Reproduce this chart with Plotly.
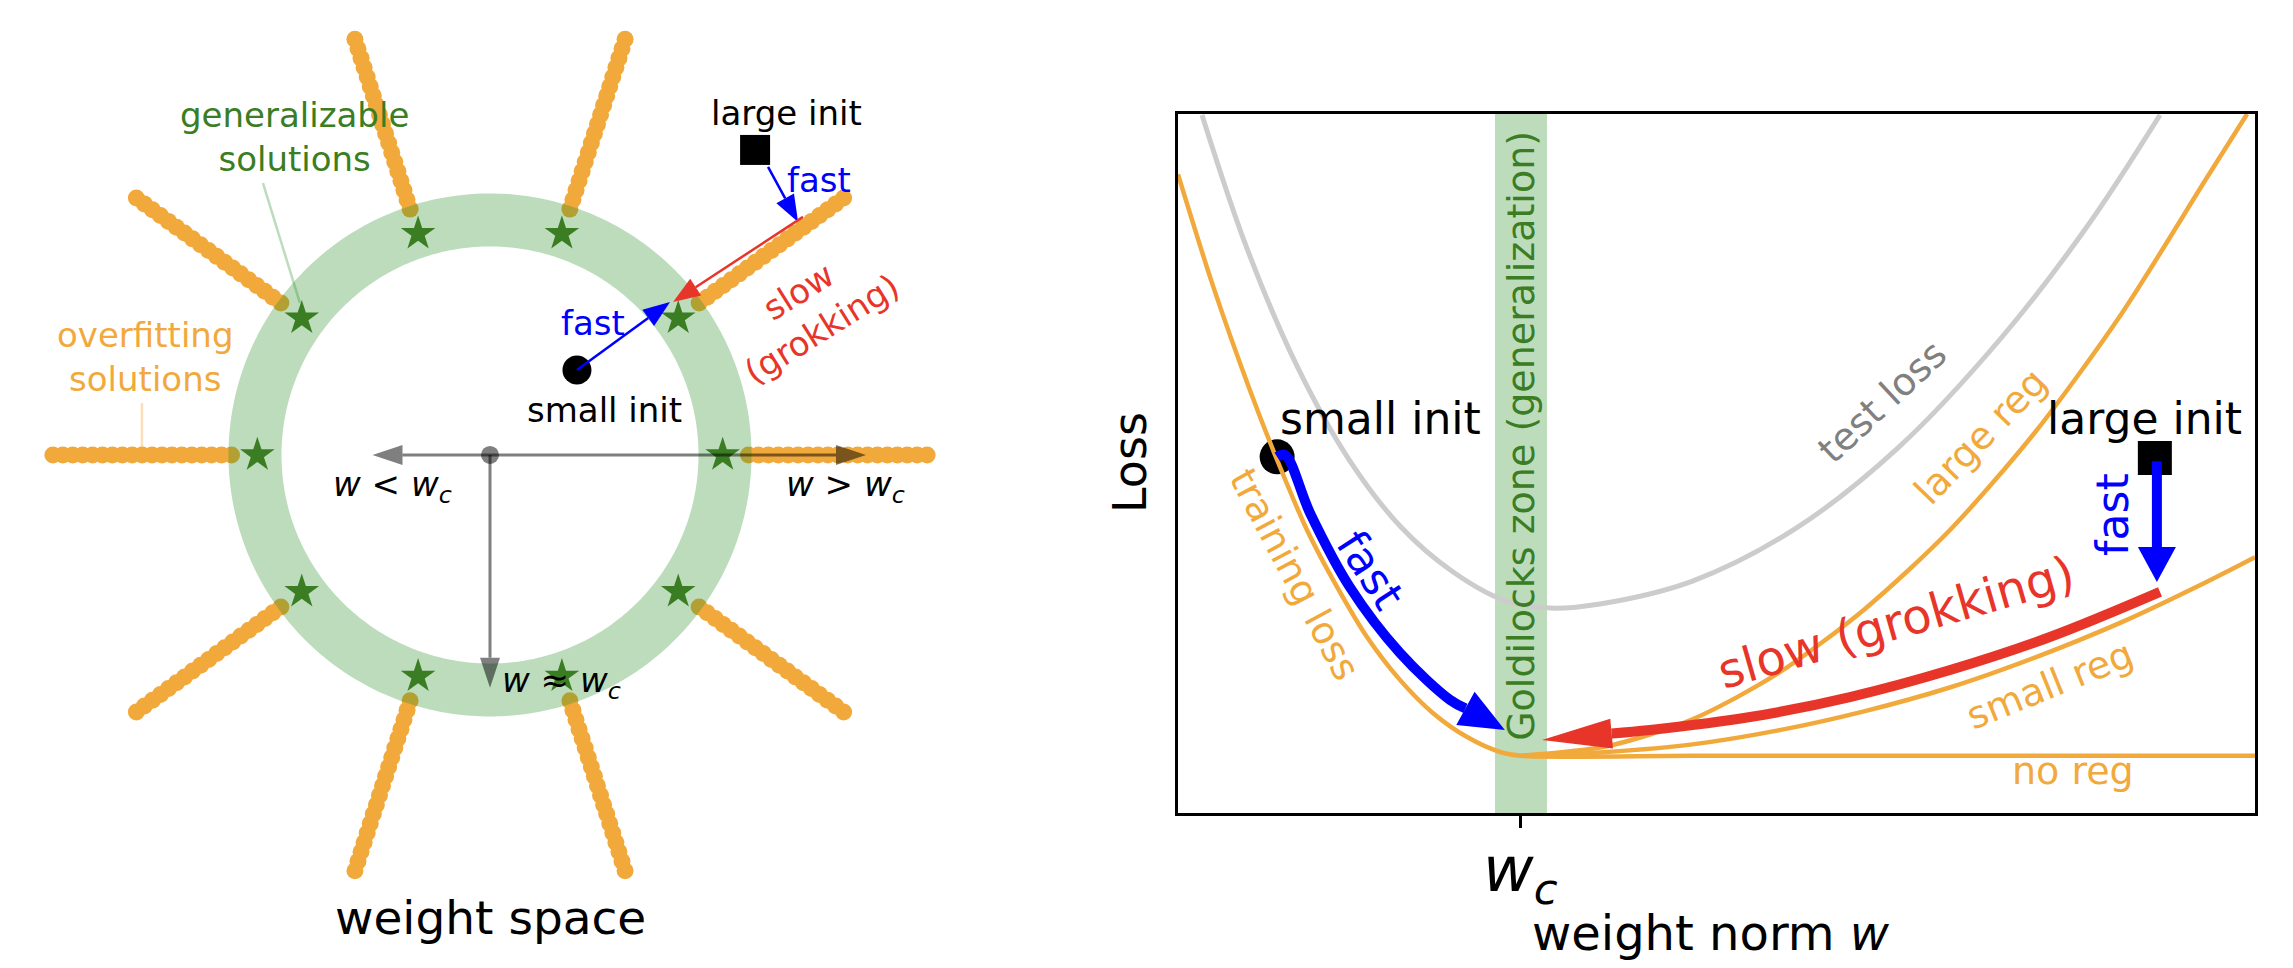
import numpy as np
import plotly.graph_objects as go

W, H = 2293, 968
FONT = "DejaVu Sans"
ORANGE = "#F2A93B"
RING = "rgba(34,139,34,0.3)"
DKGREEN = "#3A7D22"
BLUE = "#0000FF"
RED = "#E8352A"
HALF_BLACK = "rgba(0,0,0,0.5)"

# ---------------- left panel: weight space (units: ring radius = w_c = 1) ----------
ray_angles = [0, 36, 72, 108, 144, 180, 216, 252, 288, 324]
ray_r_start = 1.10
ray_r_end = 1.86
ray_dots = 19
star_radius = 0.99
ring_radius = 1.0
axis_arrow_angles = [180, 0, 270]
axis_arrow_lengths = [0.50, 1.60, 0.99]
axis_label_text = ["<i>w</i> < <i>w<sub>c</sub></i>",
                   "<i>w</i> > <i>w<sub>c</sub></i>",
                   "<i>w</i> ≈ <i>w<sub>c</sub></i>"]
axis_label_pos = [(-0.417, -0.136, "center"), (1.511, -0.136, "center"), (0.043, -0.970, "left")]
small_init_ws = [0.370, 0.362]
large_init_ws = [1.128, 1.298]
fast_small_tip = [0.766, 0.651]
fast_large_start = [1.183, 1.226]
fast_large_tip = [1.311, 0.991]
slow_start = [1.332, 1.013]
slow_tip = [0.779, 0.651]

# ---------------- right panel: loss vs weight norm ----------------
w_c = 1.0
w_train = [0.0, 0.102, 0.210, 0.289, 0.376, 0.464, 0.551, 0.647, 0.743, 0.843, 0.939, 1.0, 1.5, 2.0, 2.5, 3.14]
loss_train = [1.83, 1.479, 1.150, 0.931, 0.711, 0.531, 0.374, 0.239, 0.135, 0.059, 0.012, 0.0, 0.0, 0.0, 0.0, 0.0]
w_small = [1.0, 1.25, 1.5, 1.75, 2.0, 2.25, 2.5, 2.75, 3.0, 3.14]
loss_small = [0.0, 0.012, 0.036, 0.080, 0.140, 0.215, 0.310, 0.420, 0.548, 0.625]
w_large = [1.0, 1.25, 1.5, 1.75, 2.0, 2.25, 2.5, 2.75, 3.0, 3.117]
loss_large = [0.0, 0.030, 0.115, 0.260, 0.460, 0.710, 1.020, 1.390, 1.820, 2.020]
w_test = [0.070, 0.20, 0.35, 0.50, 0.65, 0.80, 0.95, 1.085, 1.23, 1.50, 1.80, 2.10, 2.40, 2.65, 2.863]
loss_test = [2.017, 1.60, 1.22, 0.93, 0.72, 0.58, 0.49, 0.465, 0.478, 0.55, 0.715, 0.97, 1.315, 1.665, 2.017]
w_fast_path = [0.289, 0.312, 0.385, 0.501, 0.647, 0.793, 0.953]
loss_fast_path = [0.941, 0.947, 0.764, 0.531, 0.324, 0.176, 0.081]
w_slow_path = [2.863, 2.542, 2.251, 1.959, 1.668, 1.376, 1.061]
loss_slow_path = [0.516, 0.374, 0.270, 0.185, 0.122, 0.081, 0.050]
small_init_lw = [0.289, 0.941]
large_init_lw = [2.848, 0.937]
drop_tip_lw = [2.854, 0.547]

X_RANGE_L = [-2.085, 2.085]
Y_RANGE_L = [-2.183, 1.936]
X_RANGE_R = [0.0, 3.14]
Y_RANGE_R = [-0.18, 2.02]
DOM_X_L = [0, 980 / W]
DOM_X_R = [1178 / W, 2255 / W]
DOM_Y_R = [155 / H, 854 / H]

# pixels per data unit
SXL = 980 / (X_RANGE_L[1] - X_RANGE_L[0])
SYL = H / (Y_RANGE_L[1] - Y_RANGE_L[0])
SXR = (DOM_X_R[1] - DOM_X_R[0]) * W / (X_RANGE_R[1] - X_RANGE_R[0])
SYR = (DOM_Y_R[1] - DOM_Y_R[0]) * H / (Y_RANGE_R[1] - Y_RANGE_R[0])

fig = go.Figure()


def head_poly(tip, frm, L, Wd, sx, sy):
    dx = (tip[0] - frm[0]) * sx
    dy = (tip[1] - frm[1]) * sy
    n = (dx * dx + dy * dy) ** 0.5
    ux, uy = dx / n, dy / n
    tx, ty = tip[0] * sx, tip[1] * sy
    bx, by = tx - ux * L, ty - uy * L
    px, py = -uy, ux
    pts = [(tx, ty), (bx + px * Wd / 2, by + py * Wd / 2), (bx - px * Wd / 2, by - py * Wd / 2), (tx, ty)]
    return [p[0] / sx for p in pts], [p[1] / sy for p in pts], (bx / sx, by / sy)


def add_arrow(xs, ys, color, width, L, Wd, xa, ya, sx, sy, spline=False):
    tip = (xs[-1], ys[-1])
    frm = (xs[-2], ys[-2])
    hx, hy, base = head_poly(tip, frm, L, Wd, sx, sy)
    sxs = list(xs[:-1]) + [base[0]]
    sys_ = list(ys[:-1]) + [base[1]]
    fig.add_trace(go.Scatter(x=sxs, y=sys_, mode="lines", xaxis=xa, yaxis=ya,
                             line=dict(color=color, width=width, shape="spline" if spline else "linear",
                                       simplify=False),
                             hoverinfo="skip"))
    fig.add_trace(go.Scatter(x=hx, y=hy, mode="lines", fill="toself", fillcolor=color,
                             line=dict(width=0, color=color), xaxis=xa, yaxis=ya, hoverinfo="skip"))


# ---------- left panel traces ----------
rx, ry = [], []
for a in ray_angles:
    t = np.deg2rad(a)
    for r in np.linspace(ray_r_start, ray_r_end, ray_dots):
        rx.append(r * np.cos(t))
        ry.append(r * np.sin(t))
fig.add_trace(go.Scatter(x=rx, y=ry, mode="markers", xaxis="x", yaxis="y",
                         marker=dict(size=17, color=ORANGE, line=dict(width=0)), hoverinfo="skip"))

th = np.linspace(0, 2 * np.pi, 361)
fig.add_trace(go.Scatter(x=ring_radius * np.cos(th), y=ring_radius * np.sin(th), mode="lines",
                         xaxis="x", yaxis="y", line=dict(color=RING, width=53, simplify=False),
                         hoverinfo="skip"))

sa = np.deg2rad(ray_angles)
fig.add_trace(go.Scatter(x=star_radius * np.cos(sa), y=star_radius * np.sin(sa), mode="markers",
                         xaxis="x", yaxis="y", marker=dict(symbol="star", size=26, color=DKGREEN, line=dict(width=0)),
                         hoverinfo="skip"))

# leader lines
fig.add_trace(go.Scatter(x=[-0.966, -0.809], y=[1.157, 0.647], mode="lines", xaxis="x", yaxis="y",
                         line=dict(color="rgba(34,139,34,0.3)", width=2.5), hoverinfo="skip"))
fig.add_trace(go.Scatter(x=[-1.481, -1.481], y=[0.221, 0.030], mode="lines", xaxis="x", yaxis="y",
                         line=dict(color="rgba(242,169,59,0.35)", width=2.5), hoverinfo="skip"))

# axis arrows from the centre
for ang, ln in zip(axis_arrow_angles, axis_arrow_lengths):
    t = np.deg2rad(ang)
    add_arrow([0, ln * np.cos(t)], [0, ln * np.sin(t)], HALF_BLACK, 3, 30, 20, "x", "y", SXL, SYL)
fig.add_trace(go.Scatter(x=[0], y=[0], mode="markers", xaxis="x", yaxis="y",
                         marker=dict(size=18, color=HALF_BLACK, line=dict(width=0)), hoverinfo="skip"))

# inits
fig.add_trace(go.Scatter(x=[small_init_ws[0]], y=[small_init_ws[1]], mode="markers", xaxis="x", yaxis="y",
                         marker=dict(size=29, color="black", line=dict(width=0)), hoverinfo="skip"))
fig.add_trace(go.Scatter(x=[large_init_ws[0]], y=[large_init_ws[1]], mode="markers", xaxis="x", yaxis="y",
                         marker=dict(size=30, symbol="square", color="black", line=dict(width=0)), hoverinfo="skip"))
add_arrow([small_init_ws[0], fast_small_tip[0]], [small_init_ws[1], fast_small_tip[1]], BLUE, 2.5, 27, 20, "x", "y", SXL, SYL)
add_arrow([fast_large_start[0], fast_large_tip[0]], [fast_large_start[1], fast_large_tip[1]], BLUE, 2.5, 27, 20, "x", "y", SXL, SYL)
add_arrow([slow_start[0], slow_tip[0]], [slow_start[1], slow_tip[1]], RED, 2.5, 27, 20, "x", "y", SXL, SYL)

# ---------- right panel traces ----------
fig.add_trace(go.Scatter(x=[small_init_lw[0]], y=[small_init_lw[1]], mode="markers", xaxis="x2", yaxis="y2",
                         marker=dict(size=35, color="black", line=dict(width=0)), hoverinfo="skip"))
fig.add_trace(go.Scatter(x=[large_init_lw[0]], y=[large_init_lw[1]], mode="markers", xaxis="x2", yaxis="y2",
                         marker=dict(size=34, symbol="square", color="black", line=dict(width=0)), hoverinfo="skip"))
fig.add_trace(go.Scatter(x=w_test, y=loss_test, mode="lines", xaxis="x2", yaxis="y2",
                         line=dict(color="#CCCCCC", width=5, shape="spline", simplify=False), hoverinfo="skip"))
for wx, ly in [(w_large, loss_large), (w_small, loss_small), (w_train, loss_train)]:
    fig.add_trace(go.Scatter(x=wx, y=ly, mode="lines", xaxis="x2", yaxis="y2",
                             line=dict(color=ORANGE, width=4.5, shape="spline", smoothing=0.8, simplify=False),
                             hoverinfo="skip"))

add_arrow(w_fast_path, loss_fast_path, BLUE, 10, 45, 38, "x2", "y2", SXR, SYR, spline=True)
add_arrow(w_slow_path, loss_slow_path, RED, 10, 70, 30, "x2", "y2", SXR, SYR, spline=True)
add_arrow([large_init_lw[0] + 0.006, drop_tip_lw[0]], [large_init_lw[1] - 0.01, drop_tip_lw[1]], BLUE, 10, 35, 38, "x2", "y2", SXR, SYR)

# ---------- shapes ----------
band_half = 26 / SXR
shapes = [dict(type="rect", xref="x2", yref="y2 domain", x0=w_c - band_half, x1=w_c + band_half, y0=0, y1=1,
               fillcolor=RING, line=dict(width=0), layer="below")]

# ---------- annotations ----------
ann = []


def txt(x, y, s, size, color, xref, yref, angle=0, xanchor="center", yanchor="middle"):
    ann.append(dict(x=x, y=y, text=s, xref=xref, yref=yref, showarrow=False, textangle=angle,
                    xanchor=xanchor, yanchor=yanchor, align="center",
                    font=dict(family=FONT, size=size, color=color)))


txt(-0.834, 1.355, "generalizable<br>solutions", 34, DKGREEN, "x", "y")
txt(-1.466, 0.417, "overfitting<br>solutions", 34, ORANGE, "x", "y")
for s, (px_, py_, xa_) in zip(axis_label_text, axis_label_pos):
    txt(px_, py_, s, 34, "black", "x", "y", xanchor=xa_)
txt(1.260, 1.455, "large init", 34, "black", "x", "y")
txt(1.400, 1.170, "fast", 34, BLUE, "x", "y")
txt(0.438, 0.562, "fast", 34, BLUE, "x", "y")
txt(0.489, 0.191, "small init", 34, "black", "x", "y")
txt(1.362, 0.617, "slow<br>(grokking)", 34, RED, "x", "y", angle=-32)
txt(0.0, -1.966, "weight space", 47, "black", "x", "y")

txt(0.292, 1.063, "small init", 44, "black", "x2", "y2", xanchor="left")
txt(2.819, 1.063, "large init", 44, "black", "x2", "y2")
txt(w_c, 1.007, "Goldilocks zone (generalization)", 38, DKGREEN, "x2", "y2", angle=-90)
txt(2.052, 1.114, "test loss", 38, "#808080", "x2", "y2", angle=-43)
txt(2.341, 1.007, "large reg", 38, ORANGE, "x2", "y2", angle=-46)
txt(0.341, 0.569, "training loss", 38, ORANGE, "x2", "y2", angle=62)
txt(0.560, 0.585, "fast", 44, BLUE, "x2", "y2", angle=57)
txt(2.093, 0.421, "slow (grokking)", 48, RED, "x2", "y2", angle=-16)
txt(2.542, 0.223, "small reg", 38, ORANGE, "x2", "y2", angle=-22)
txt(2.609, -0.048, "no reg", 38, ORANGE, "x2", "y2")
txt(2.726, 0.758, "fast", 44, BLUE, "x2", "y2", angle=-90)
txt(1130 / W, 505 / H, "Loss", 46, "black", "paper", "paper", angle=-90)
txt(w_c, 95 / H, "<i>w<sub>c</sub></i>", 62, "black", "x2", "paper")
txt(1711 / W, 35 / H, "weight norm <i>w</i>", 48, "black", "paper", "paper")

fig.update_layout(
    width=W, height=H, margin=dict(l=0, r=0, t=0, b=0),
    paper_bgcolor="white", plot_bgcolor="white", showlegend=False,
    xaxis=dict(domain=DOM_X_L, range=X_RANGE_L, visible=False, fixedrange=True),
    yaxis=dict(domain=[0, 1], range=Y_RANGE_L, visible=False, fixedrange=True),
    xaxis2=dict(domain=DOM_X_R, range=X_RANGE_R, anchor="y2", showgrid=False, zeroline=False,
                showline=True, mirror=True, linecolor="black", linewidth=2.5, ticks="outside",
                ticklen=12, tickwidth=2.5, tickcolor="black", tickvals=[w_c], showticklabels=False),
    yaxis2=dict(domain=DOM_Y_R, range=Y_RANGE_R, anchor="x2", showgrid=False, zeroline=False,
                showline=True, mirror=True, linecolor="black", linewidth=2.5, ticks="",
                showticklabels=False),
    shapes=shapes, annotations=ann,
)

fig.write_html("out.html", config={"displayModeBar": False},
               post_script="document.body.style.margin='0';document.body.style.overflow='hidden';")
